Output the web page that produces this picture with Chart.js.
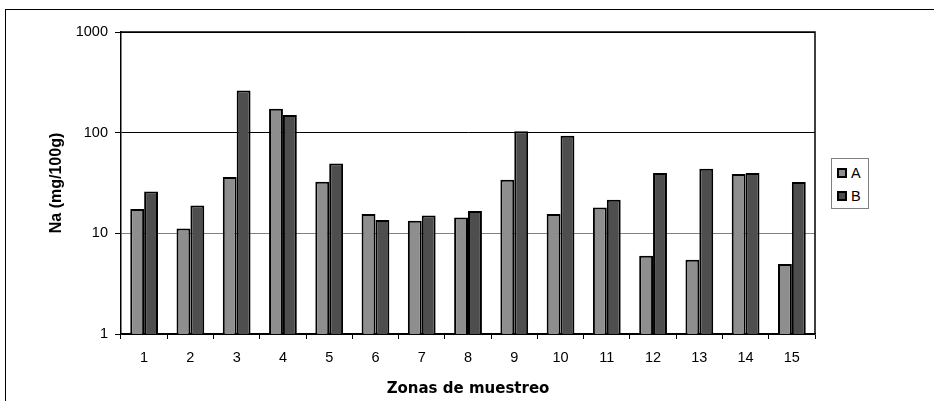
<!DOCTYPE html>
<html>
<head>
<meta charset="utf-8">
<script src="https://cdn.jsdelivr.net/npm/chart.js@4/dist/chart.umd.min.js"></script>
<style>
  html, body { margin: 0; padding: 0; background: #fff; }
  #wrap { position: relative; width: 934px; height: 401px; overflow: hidden; }
  #frame { position: absolute; left: 5px; top: 9px; width: 2000px; height: 2000px;
           border-left: 1px solid #000; border-top: 1px solid #000; }
  #chart { position: absolute; left: 0; top: 0; }
  #legend { position: absolute; left: 831px; top: 158px; width: 36px; height: 49px;
            border: 1px solid #808080; background: #fff;
            font: 14.5px "Liberation Sans", Arial, sans-serif; color: #000; }
  #legend .item { position: absolute; left: 5px; height: 16px; line-height: 16px; }
  #legend .sw { display: inline-block; width: 6px; height: 6px; border: 2px solid #000;
                vertical-align: 0px; margin-right: 4px; }
</style>
</head>
<body>
<div id="wrap">
  <div id="frame"></div>
  <canvas id="chart" width="934" height="401"></canvas>
  <div id="legend"></div>
</div>
<script>
const $ = (sel) => document.querySelector(sel);

// Datos (Na en mg/100g, escala logarítmica)
const zonas = ["1", "2", "3", "4", "5", "6", "7", "8", "9", "10", "11", "12", "13", "14", "15"];
const serieA = [17.4, 11.2, 36.3, 173, 32.5, 15.6, 13.3, 14.4, 34.1, 15.6, 18.1, 6.0, 5.45, 38.8, 4.97];
const serieB = [26, 18.9, 262, 150, 49.5, 13.6, 15.0, 16.7, 103, 93.3, 21.5, 39.7, 43.8, 39.7, 32.3];
const yTicks = [1, 10, 100, 1000];

const FONT = "'Liberation Sans', Arial, sans-serif";
const WIDE = "'DejaVu Sans', sans-serif"; // el original está algo estirado en horizontal

// Marco del área de trazado (arriba y derecha)
const plotFrame = {
  id: "plotFrame",
  afterDraw(chart) {
    const { ctx, chartArea: a } = chart;
    ctx.save();
    ctx.strokeStyle = "#000";
    ctx.lineWidth = 1.5;
    ctx.beginPath();
    ctx.moveTo(a.left, a.top);
    ctx.lineTo(a.right, a.top);
    ctx.lineTo(a.right, a.bottom);
    ctx.stroke();
    ctx.restore();
  },
};

const chart = new Chart($("#chart"), {
  type: "bar",
  data: {
    labels: zonas,
    datasets: [
      { label: "A", data: serieA, backgroundColor: "#8e8e8e", borderColor: "#000", borderWidth: 2 },
      { label: "B", data: serieB, backgroundColor: "#4e4e4e", borderColor: "#000", borderWidth: 2 },
    ],
  },
  options: {
    responsive: false,
    animation: false,
    events: [],
    layout: { padding: { left: 0, top: 32, right: 119, bottom: 0 } },
    datasets: { bar: { categoryPercentage: 0.6, barPercentage: 1 } },
    plugins: { legend: { display: false }, tooltip: { enabled: false } },
    scales: {
      x: {
        afterFit: (s) => { s.height = 67; },
        grid: { offset: true, drawOnChartArea: false, color: "#000", tickLength: 5, lineWidth: 1 },
        border: { color: "#000", width: 1.5 },
        ticks: { color: "#000", font: { family: FONT, size: 14.5 }, padding: 10, maxRotation: 0 },
        title: {
          display: true,
          text: "Zonas de muestreo",
          color: "#000",
          font: { family: WIDE, size: 15, weight: "bold" },
          padding: { top: 0, bottom: 3 },
        },
      },
      y: {
        type: "logarithmic",
        min: 1,
        max: 1000,
        afterFit: (s) => { s.width = 121; },
        afterBuildTicks: (s) => { s.ticks = yTicks.map((v) => ({ value: v })); },
        grid: {
          color: (c) => (c.tick && c.tick.value === 10 ? "#808080" : "#000"),
          tickColor: "#000",
          tickLength: 6,
          lineWidth: 1,
        },
        border: { color: "#000", width: 1.5 },
        ticks: {
          color: "#000",
          font: { family: FONT, size: 14.5 },
          padding: 7,
          callback: (v) => String(v),
        },
        title: {
          display: true,
          text: "Na (mg/100g)",
          color: "#000",
          font: { family: FONT, size: 16, weight: "bold" },
          padding: { top: 47, bottom: 0 },
        },
      },
    },
  },
  plugins: [plotFrame],
});

// Leyenda con recuadro, como en el original
$("#legend").innerHTML = chart.data.datasets
  .map((d, i) => `<div class="item" style="top:${6 + i * 23}px"><span class="sw" style="background:${d.backgroundColor}"></span>${d.label}</div>`)
  .join("");
</script>
</body>
</html>
